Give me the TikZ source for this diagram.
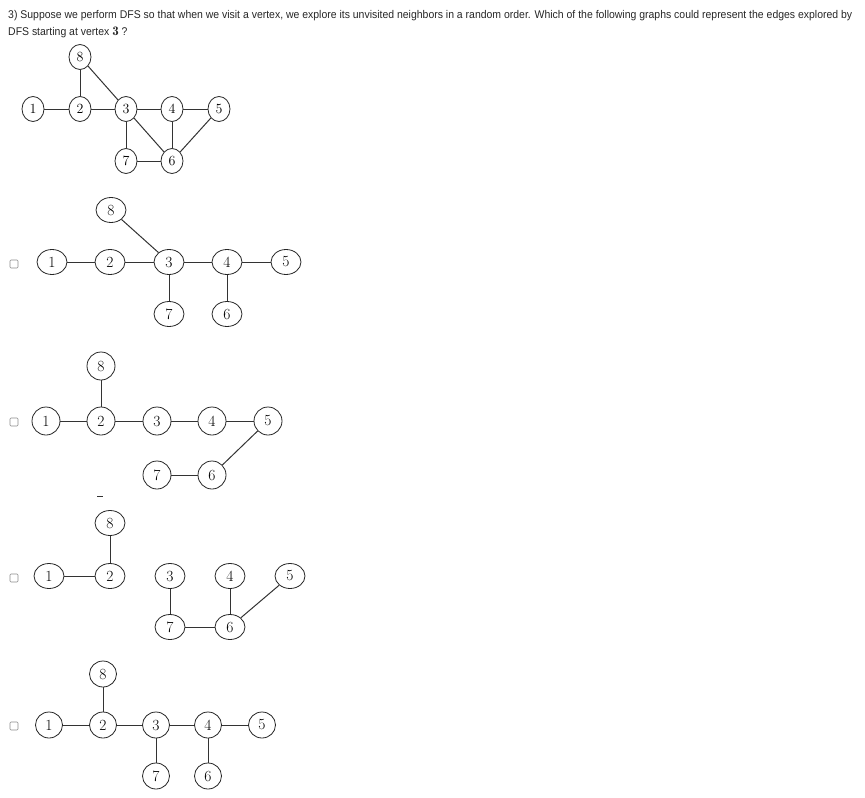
\documentclass[tikz,border=0pt]{standalone}
\usepackage{fontspec}
\newfontfamily\qfont[FakeStretch=0.934]{Liberation Sans}
\usetikzlibrary{shapes.geometric}
\begin{document}
\begin{tikzpicture}[x=1pt,y=-1pt,
  vtx/.style={ellipse, draw=black!85, line width=0.8pt, inner sep=0pt, fill=white, font=\fontsize{15.5}{15.5}\selectfont},
  topvtx/.style={vtx, minimum width=22pt, minimum height=25pt, font=\fontsize{14}{14}\selectfont},
  avtx/.style={vtx, minimum width=30pt, minimum height=25pt},
  bvtx/.style={vtx, minimum width=28pt, minimum height=28pt},
  dvtx/.style={vtx, minimum width=27pt, minimum height=26pt},
  edge/.style={draw=black!80, line width=1pt},
  chk/.style={draw=black!45, rounded corners=1pt, minimum size=8pt, inner sep=0pt, line width=0.6pt},
  qtext/.style={anchor=base west, inner sep=0pt, font=\qfont\fontsize{11.2}{13}\selectfont, text=black!85}]
\useasboundingbox (0,0) rectangle (865,798);
\node[qtext] (q1) at (8,18) {3) Suppose we perform DFS so that when we visit a vertex, we explore its unvisited neighbors in a random order. Which of the following graphs could represent the edges explored by};
\node[qtext] (q2) at (8,35) {DFS starting at vertex {\fontsize{13}{13}\selectfont$\mathbf{3}$} ?};
\node[topvtx] (g0n8) at (80,57){8};
\node[topvtx] (g0n1) at (33,109){1};
\node[topvtx] (g0n2) at (80,109){2};
\node[topvtx] (g0n3) at (126,109){3};
\node[topvtx] (g0n4) at (172,109){4};
\node[topvtx] (g0n5) at (219,109){5};
\node[topvtx] (g0n7) at (126,161){7};
\node[topvtx] (g0n6) at (172,161){6};
\draw[edge](g0n1) -- (g0n2);
\draw[edge](g0n2) -- (g0n3);
\draw[edge](g0n3) -- (g0n4);
\draw[edge](g0n4) -- (g0n5);
\draw[edge](g0n8) -- (g0n2);
\draw[edge](g0n8) -- (g0n3);
\draw[edge](g0n3) -- (g0n7);
\draw[edge](g0n3) -- (g0n6);
\draw[edge](g0n4) -- (g0n6);
\draw[edge](g0n5) -- (g0n6);
\draw[edge](g0n7) -- (g0n6);
\node[chk] (boxa) at (14,264){};
\node[avtx] (g1n8) at (111,210){8};
\node[avtx] (g1n1) at (52,262){1};
\node[avtx] (g1n2) at (110,262){2};
\node[avtx] (g1n3) at (169,262){3};
\node[avtx] (g1n4) at (227,262){4};
\node[avtx] (g1n5) at (286,262){5};
\node[avtx] (g1n7) at (169,314){7};
\node[avtx] (g1n6) at (227,314){6};
\draw[edge](g1n1) -- (g1n2);
\draw[edge](g1n2) -- (g1n3);
\draw[edge](g1n3) -- (g1n4);
\draw[edge](g1n4) -- (g1n5);
\draw[edge](g1n8) -- (g1n3);
\draw[edge](g1n3) -- (g1n7);
\draw[edge](g1n4) -- (g1n6);
\node[chk] (boxb) at (14,422){};
\node[bvtx] (g2n8) at (101,366){8};
\node[bvtx] (g2n1) at (46,421){1};
\node[bvtx] (g2n2) at (101,421){2};
\node[bvtx] (g2n3) at (157,421){3};
\node[bvtx] (g2n4) at (212,421){4};
\node[bvtx] (g2n5) at (268,421){5};
\node[bvtx] (g2n7) at (157,475){7};
\node[bvtx] (g2n6) at (212,475){6};
\draw[edge](g2n1) -- (g2n2);
\draw[edge](g2n2) -- (g2n3);
\draw[edge](g2n3) -- (g2n4);
\draw[edge](g2n4) -- (g2n5);
\draw[edge](g2n8) -- (g2n2);
\draw[edge](g2n5) -- (g2n6);
\draw[edge](g2n7) -- (g2n6);
\draw[black!80, line width=0.8pt] (97,496) -- (103,496);
\node[chk] (boxc) at (14,578){};
\node[avtx] (g3n8) at (110,523){8};
\node[avtx] (g3n1) at (49,576){1};
\node[avtx] (g3n2) at (110,576){2};
\node[avtx] (g3n3) at (170,576){3};
\node[avtx] (g3n4) at (230,576){4};
\node[avtx] (g3n5) at (290,576){5};
\node[avtx] (g3n7) at (170,627){7};
\node[avtx] (g3n6) at (230,627){6};
\draw[edge](g3n1) -- (g3n2);
\draw[edge](g3n8) -- (g3n2);
\draw[edge](g3n3) -- (g3n7);
\draw[edge](g3n7) -- (g3n6);
\draw[edge](g3n4) -- (g3n6);
\draw[edge](g3n5) -- (g3n6);
\node[chk] (boxd) at (14,726){};
\node[dvtx] (g4n8) at (103,674){8};
\node[dvtx] (g4n1) at (49,725){1};
\node[dvtx] (g4n2) at (103,725){2};
\node[dvtx] (g4n3) at (156,725){3};
\node[dvtx] (g4n4) at (208,725){4};
\node[dvtx] (g4n5) at (262,725){5};
\node[dvtx] (g4n7) at (156,776){7};
\node[dvtx] (g4n6) at (208,776){6};
\draw[edge](g4n1) -- (g4n2);
\draw[edge](g4n2) -- (g4n3);
\draw[edge](g4n3) -- (g4n4);
\draw[edge](g4n4) -- (g4n5);
\draw[edge](g4n8) -- (g4n2);
\draw[edge](g4n3) -- (g4n7);
\draw[edge](g4n4) -- (g4n6);
\end{tikzpicture}
\end{document}
